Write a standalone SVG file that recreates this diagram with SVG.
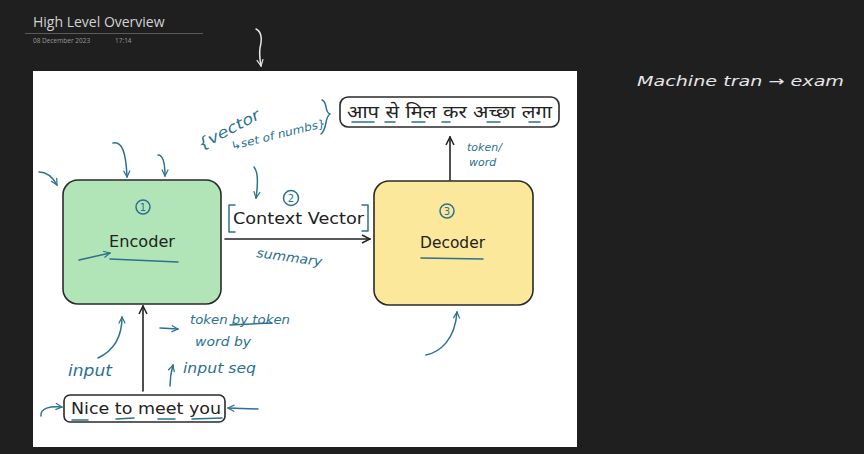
<svg xmlns="http://www.w3.org/2000/svg" width="864" height="454" viewBox="0 0 864 454">
<defs>
<style>
.ann{fill:none;stroke:#2b7190;stroke-width:1.5;stroke-linecap:round;stroke-linejoin:round}
.annt{fill:#2b7190;font-family:"DejaVu Sans",sans-serif}
.box{stroke:#2a2a2a;stroke-width:1.6}
.lbl{fill:#222;font-family:"DejaVu Sans","Noto Sans",sans-serif}
.ink{fill:none;stroke:#222;stroke-width:1.6;stroke-linecap:round}
.wht{fill:none;stroke:#e6e6e6;stroke-width:1.5;stroke-linecap:round;stroke-linejoin:round}
</style>
<marker id="ah" viewBox="0 0 10 10" refX="9" refY="5" markerWidth="10" markerHeight="10" orient="auto" markerUnits="userSpaceOnUse">
<path d="M1,1 L9,5 L1,9" fill="none" stroke="#222" stroke-width="1.5"/>
</marker>
<marker id="ab" viewBox="0 0 10 10" refX="9" refY="5" markerWidth="8" markerHeight="8" orient="auto" markerUnits="userSpaceOnUse">
<path d="M1,1 L9,5 L1,9" fill="none" stroke="#2b7190" stroke-width="1.5"/>
</marker>
<marker id="aw" viewBox="0 0 10 10" refX="9" refY="5" markerWidth="8" markerHeight="8" orient="auto" markerUnits="userSpaceOnUse">
<path d="M1,1 L9,5 L1,9" fill="none" stroke="#e6e6e6" stroke-width="1.5"/>
</marker>
</defs>
<rect width="864" height="454" fill="#1f1f1f"/>
<g id="header">
<text x="33" y="27" fill="#d2d2d2" font-family="Open Sans,Liberation Sans,sans-serif" font-size="14">High Level Overview</text>
<line x1="25" y1="33.5" x2="203" y2="33.5" stroke="#5a5a5a" stroke-width="1"/>
<text x="33" y="43" fill="#9a9a9a" font-family="Open Sans,Liberation Sans,sans-serif" font-size="6.5">08 December 2023</text>
<text x="115" y="43" fill="#9a9a9a" font-family="Open Sans,Liberation Sans,sans-serif" font-size="6.5">17:14</text>
<path class="wht" d="M256,29 C262,32 262,40 260,48 C259,55 260,60 261,66" marker-end="url(#aw)"/>
<text x="637" y="86" fill="#e6e6e6" font-family="DejaVu Sans,sans-serif" font-size="14" font-style="italic" textLength="207" lengthAdjust="spacingAndGlyphs">Machine tran → exam</text>
</g>
<rect id="canvas" x="33" y="71" width="544" height="376" fill="#ffffff"/>
<g id="connectors">
<line class="ink" x1="225" y1="239" x2="370" y2="239" marker-end="url(#ah)"/>
<line class="ink" x1="450" y1="180" x2="450" y2="137" marker-end="url(#ah)"/>
<line class="ink" x1="143" y1="391" x2="143" y2="306" marker-end="url(#ah)"/>
</g>
<g id="encoder">
<rect class="box" x="63" y="180" width="158" height="124" rx="15" fill="#b1e5b8"/>
<circle class="ann" cx="143" cy="207" r="7"/>
<text x="143" y="211" class="annt" font-size="10" text-anchor="middle">1</text>
<text class="lbl" x="109" y="247" font-size="15" textLength="66" lengthAdjust="spacingAndGlyphs">Encoder</text>
<path class="ann" d="M110,259 L178,262"/>
<path class="ann" d="M79,260 L110,253" marker-end="url(#ab)"/>
</g>
<g id="decoder">
<rect class="box" x="374" y="181" width="159" height="124" rx="15" fill="#fce89b"/>
<circle class="ann" cx="447" cy="211" r="7"/>
<text x="447" y="215" class="annt" font-size="10" text-anchor="middle">3</text>
<text class="lbl" x="420" y="248" font-size="15" textLength="65" lengthAdjust="spacingAndGlyphs">Decoder</text>
<path class="ann" d="M421,258 L483,259"/>
</g>
<g id="context-vector">
<path class="ann" d="M235,205 L229,205 L229,232 L235,232"/>
<path class="ann" d="M362,205 L368,205 L368,231 L362,231"/>
<text class="lbl" x="233" y="224" font-size="16" textLength="131" lengthAdjust="spacingAndGlyphs">Context Vector</text>
<circle class="ann" cx="291" cy="198" r="7.5"/>
<text x="291" y="202" class="annt" font-size="10" text-anchor="middle">2</text>
</g>
<g id="output-sentence">
<rect class="box" x="340" y="97" width="219" height="30" rx="8" fill="#ffffff"/>
<text class="lbl" x="347" y="118" font-size="17" textLength="205" lengthAdjust="spacingAndGlyphs" font-family="Noto Sans Devanagari,Noto Sans,Lohit Devanagari,sans-serif">आप से मिल कर अच्छा लगा</text>
<path class="ann" d="M352,122 L374,122 M385,122 L395,122 M412,122 L425,122 M442,122 L450,122 M487,122 L500,122 M529,122 L540,122"/>
</g>
<g id="input-sentence">
<rect class="box" x="64" y="395" width="161" height="27" rx="6" fill="#ffffff"/>
<text class="lbl" x="71" y="414" font-size="16" textLength="150" lengthAdjust="spacingAndGlyphs">Nice to meet you</text>
<path class="ann" d="M72,420 L88,420 M116,419 L134,418 M158,419 L175,419 M192,419 L222,418"/>
</g>
<g id="annotations" font-style="italic">
<path class="ann" d="M39,172 C46,172 52,176 57,185" marker-end="url(#ab)"/>
<path class="ann" d="M113,143 C122,141 126,152 127,177" marker-end="url(#ab)"/>
<path class="ann" d="M158,155 C164,155 165,165 165,176" marker-end="url(#ab)"/>
<text class="annt" transform="translate(201,150) rotate(-28)" font-size="15" textLength="68" lengthAdjust="spacingAndGlyphs">{vector</text>
<text class="annt" transform="translate(232,150) rotate(-14)" font-size="11" textLength="97" lengthAdjust="spacingAndGlyphs">↳set of numbs}</text>
<path class="ann" d="M322,100 C328,102 324,112 330,114 C324,118 328,128 321,134"/>
<path class="ann" d="M254,167 C258,172 258,185 256,198" marker-end="url(#ab)"/>
<text class="annt" x="256" y="257" font-size="13" transform="rotate(8,256,257)" textLength="66" lengthAdjust="spacingAndGlyphs">summary</text>
<path class="ann" d="M426,355 C440,352 455,340 457,312" marker-end="url(#ab)"/>
<text class="annt" x="467" y="151" font-size="11">token/</text>
<text class="annt" x="469" y="166" font-size="11">word</text>
<path class="ann" d="M160,328 L178,329" marker-end="url(#ab)"/>
<text class="annt" x="190" y="324" font-size="12" textLength="100" lengthAdjust="spacingAndGlyphs">token by token</text>
<path class="ann" d="M230,325 L272,323"/>
<text class="annt" x="195" y="346" font-size="12" textLength="56" lengthAdjust="spacingAndGlyphs">word by</text>
<text class="annt" x="68" y="376" font-size="16" textLength="44" lengthAdjust="spacingAndGlyphs">input</text>
<path class="ann" d="M98,358 C115,350 122,335 122,317" marker-end="url(#ab)"/>
<path class="ann" d="M170,386 C170,378 171,372 173,365" marker-end="url(#ab)"/>
<text class="annt" x="183" y="373" font-size="14" textLength="73" lengthAdjust="spacingAndGlyphs">input seq</text>
<path class="ann" d="M41,416 C40,408 50,406 62,407" marker-end="url(#ab)"/>
<path class="ann" d="M258,409 L228,408" marker-end="url(#ab)"/>
</g>
</svg>
